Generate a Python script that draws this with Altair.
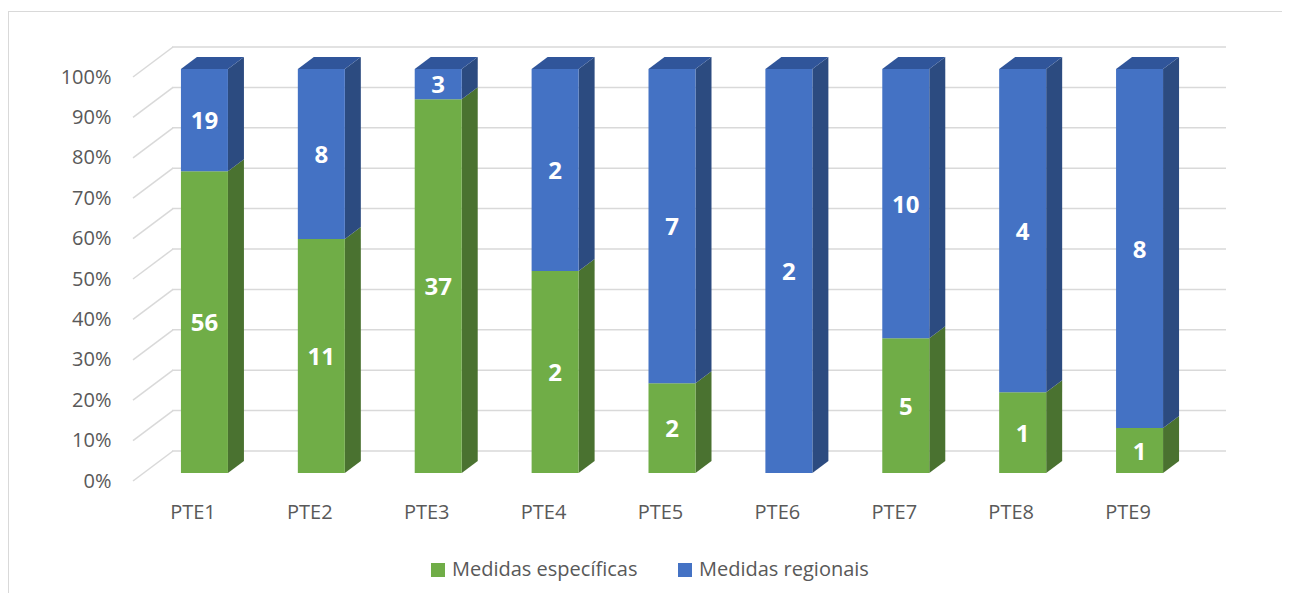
import json
import altair as alt
import pandas as pd

# ---- data ----
categories = ["PTE1", "PTE2", "PTE3", "PTE4", "PTE5", "PTE6", "PTE7", "PTE8", "PTE9"]
especificas = [56, 11, 37, 2, 2, 0, 5, 1, 1]
regionais = [19, 8, 3, 2, 7, 2, 10, 4, 8]
series_names = ["Medidas específicas", "Medidas regionais"]
y_ticks = [0, 10, 20, 30, 40, 50, 60, 70, 80, 90, 100]

# ---- styles / geometry ----
front_colors = ["#70AD47", "#4472C4"]
side_colors = ["#4A7230", "#2C4B80"]
top_colors = ["#5A8C39", "#30559A"]
GRID = "#D9D9D9"
TXT = "#595959"
FONT = "Open Sans"

W, H = 1052, 404
STEP = W / len(categories)
BAR_PX = 47
DEPTH_X_PX = 16
DEPTH_Y_PX = 12
half = BAR_PX / 2 / STEP
dx = DEPTH_X_PX / STEP
dy = DEPTH_Y_PX / H * 100

front_rows, side_rows, top_rows = [], [], []
for i, cat in enumerate(categories):
    total = especificas[i] + regionais[i]
    c = i + 0.5
    lo = 0.0
    top_s = 0
    for s, vals in enumerate([especificas, regionais]):
        v = vals[i]
        hi = lo + v / total * 100
        if v > 0:
            front_rows.append(dict(cat=cat, series=series_names[s], count=v,
                                   xl=c - half, xr=c + half, xc=c, lo=lo, hi=hi,
                                   mid=(lo + hi) / 2))
            seg = f"{cat}-{s}"
            side_rows.append(dict(seg=seg, x=c + half, lo=lo, hi=hi, col=side_colors[s]))
            side_rows.append(dict(seg=seg, x=c + half + dx, lo=lo + dy, hi=hi + dy, col=side_colors[s]))
            top_s = s
        lo = hi
    top_rows.append(dict(seg=cat, y=100, xl=c - half, xr=c + half, col=top_colors[top_s]))
    top_rows.append(dict(seg=cat, y=100 + dy, xl=c - half + dx, xr=c + half + dx, col=top_colors[top_s]))

front_df = pd.DataFrame(front_rows)
side_df = pd.DataFrame(side_rows)
top_df = pd.DataFrame(top_rows)
grid_df = pd.DataFrame({"v": y_ticks})

xscale = alt.Scale(domain=[0, len(categories)], nice=False, zero=False)
yscale = alt.Scale(domain=[0, 100], nice=False, zero=False)

xaxis = alt.Axis(values=[i + 0.5 for i in range(len(categories))],
                 labelExpr=f"{json.dumps(categories)}[floor(datum.value)]",
                 title=None, domain=False, ticks=False, grid=False,
                 labelFlush=False, labelOverlap=False, labelBound=False,
                 labelPadding=29, labelOffset=-12, labelFontSize=20,
                 labelFont=FONT, labelColor=TXT)
yaxis = alt.Axis(values=y_ticks, labelExpr="datum.value + '%'",
                 title=None, domain=False, ticks=False, grid=False,
                 labelFlush=False, labelOverlap=False, labelBound=False,
                 labelPadding=35, labelOffset=8, labelFontSize=20,
                 labelFont=FONT, labelColor=TXT)

grid = alt.Chart(grid_df).mark_rule(color=GRID, strokeWidth=1.5, yOffset=-22).encode(
    y=alt.Y("v:Q", scale=yscale, axis=yaxis),
    x=alt.value(26), x2=alt.value(1080))

diag = alt.Chart(grid_df).mark_rule(color=GRID, strokeWidth=1.5, yOffset=8, y2Offset=-22).encode(
    y=alt.Y("v:Q", scale=yscale, axis=yaxis), y2="v:Q",
    x=alt.value(-13), x2=alt.value(27))

side = alt.Chart(side_df).mark_area(orient="vertical").encode(
    x=alt.X("x:Q", scale=xscale, axis=xaxis),
    y=alt.Y("lo:Q", scale=yscale, axis=yaxis, stack=None),
    y2="hi:Q",
    detail="seg:N",
    color=alt.Color("col:N", scale=None))

top = alt.Chart(top_df).mark_area(orient="horizontal").encode(
    y=alt.Y("y:Q", scale=yscale, axis=yaxis),
    x=alt.X("xl:Q", scale=xscale, axis=xaxis, stack=None),
    x2="xr:Q",
    detail="seg:N",
    color=alt.Color("col:N", scale=None))

front = alt.Chart(front_df).mark_rect().encode(
    x=alt.X("xl:Q", scale=xscale, axis=xaxis),
    x2="xr:Q",
    y=alt.Y("lo:Q", scale=yscale, axis=yaxis),
    y2="hi:Q",
    color=alt.Color("series:N",
                    scale=alt.Scale(domain=series_names, range=front_colors),
                    legend=alt.Legend(title=None, orient="none", legendX=282, legendY=491,
                                      direction="horizontal", symbolType="square",
                                      symbolSize=196, symbolStrokeWidth=0,
                                      labelFontSize=20, labelFont=FONT, labelColor=TXT,
                                      labelLimit=0, columnPadding=37, labelOffset=4,
                                      padding=0)))

labels = alt.Chart(front_df).mark_text(font=FONT, fontWeight="bold", fontSize=24,
                                       color="white", baseline="middle", dy=2).encode(
    x=alt.X("xc:Q", scale=xscale, axis=xaxis),
    y=alt.Y("mid:Q", scale=yscale, axis=yaxis),
    text="count:Q")

border_left = alt.Chart(grid_df).mark_rule(color=GRID, strokeWidth=1).encode(
    x=alt.value(-137.5), y=alt.value(-57.5), y2=alt.value(H + 200))
border_top = alt.Chart(grid_df).mark_rule(color=GRID, strokeWidth=1).encode(
    x=alt.value(-137.5), x2=alt.value(W + 200), y=alt.value(-57.5))

chart = alt.layer(border_left, border_top, grid, diag, side, top, front, labels).properties(
    width=W, height=H,
    autosize=alt.AutoSizeParams(type="none"),
    padding={"left": 138, "top": 61, "right": 84, "bottom": 120},
    background="white",
).configure_view(stroke=None)

chart.save("out.html", embed_options={"renderer": "svg", "actions": False})
